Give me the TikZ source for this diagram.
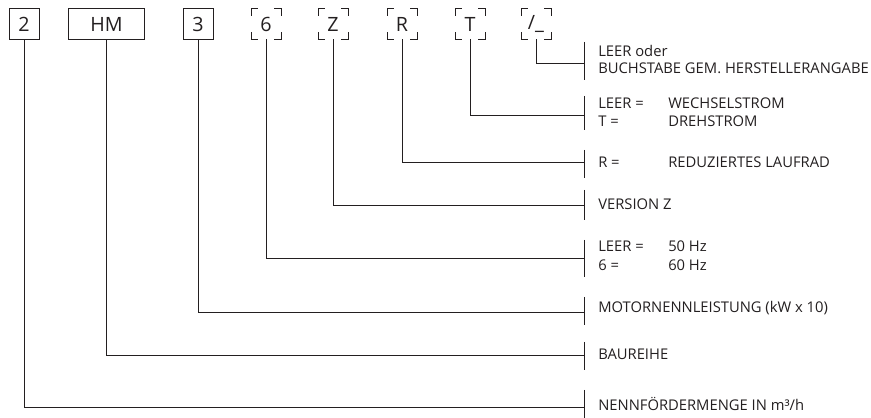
\documentclass[tikz,border=0pt]{standalone}
\usepackage{fontspec}
\setmainfont{Open Sans}
\usetikzlibrary{positioning}
\definecolor{ink}{HTML}{231F20}

\tikzset{
  codebox/.style={draw=ink, line width=0.7pt, minimum width=0.75cm, minimum height=0.75cm,
    inner sep=0pt, text=ink, font=\fontsize{14}{16}\selectfont},
  optbox/.style={codebox, dash pattern=on 0.34cm off 0.41cm, dash phase=0.17cm},
  lbl/.style={anchor=west, inner sep=0pt, text=ink, font=\fontsize{10.5}{12}\selectfont},
  wire/.style={draw=ink, line width=0.7pt}
}

\begin{document}
\begin{tikzpicture}[x=0.025cm, y=-0.025cm]
  \useasboundingbox (0,0) rectangle (871,418);

  % code positions
  \node[codebox] (n2) at (24,24) {2};
  \node[codebox, minimum width=1.875cm] (nHM) at (106.5,24) {HM};
  \node[codebox] (n3) at (198,24) {3};
  \node[optbox] (n6) at (266,24) {6};
  \node[optbox] (nZ) at (333,24) {Z};
  \node[optbox] (nR) at (402,24) {R};
  \node[optbox] (nT) at (470,24) {T};
  \node[optbox] (nX) at (536,24) {/\_};

  % bar ends
  \coordinate (bX) at (584,63);
  \coordinate (bT) at (584,115);
  \coordinate (bR) at (584,162);
  \coordinate (bZ) at (584,205);
  \coordinate (b6) at (584,258);
  \coordinate (b3) at (584,312);
  \coordinate (bHM) at (584,355);
  \coordinate (b2) at (584,407);

  % leaders
  \draw[wire] (nX.south) |- (bX);
  \draw[wire] (nT.south) |- (bT);
  \draw[wire] (nR.south) |- (bR);
  \draw[wire] (nZ.south) |- (bZ);
  \draw[wire] (n6.south) |- (b6);
  \draw[wire] (n3.south) |- (b3);
  \draw[wire] (nHM.south) |- (bHM);
  \draw[wire] (n2.south) |- (b2);

  % bars
  \draw[wire] (584,42) -- (584,80);
  \draw[wire] (584,96) -- (584,130);
  \draw[wire] (584,150) -- (584,178);
  \draw[wire] (584,190) -- (584,220);
  \draw[wire] (584,240) -- (584,277);
  \draw[wire] (584,297) -- (584,325);
  \draw[wire] (584,342) -- (584,370);
  \draw[wire] (584,390) -- (584,418);

  % meanings
  \node[lbl] (tX1) at (598,51) {LEER oder};
  \node[lbl] (tX2) at (598,68) {BUCHSTABE GEM. HERSTELLERANGABE};
  \node[lbl] (tT1) at (598,103) {LEER =};
  \node[lbl] (tT1v) at (668,103) {WECHSELSTROM};
  \node[lbl] (tT2) at (598,121) {T =};
  \node[lbl] (tT2v) at (668,121) {DREHSTROM};
  \node[lbl] (tR) at (598,162) {R =};
  \node[lbl] (tRv) at (668,162) {REDUZIERTES LAUFRAD};
  \node[lbl] (tZ) at (598,204) {VERSION Z};
  \node[lbl] (t61) at (598,246) {LEER =};
  \node[lbl] (t61v) at (668,246) {50 Hz};
  \node[lbl] (t62) at (598,265) {6 =};
  \node[lbl] (t62v) at (668,265) {60 Hz};
  \node[lbl] (t3) at (598,308) {MOTORNENNLEISTUNG (kW x 10)};
  \node[lbl] (tHM) at (598,354) {BAUREIHE};
  \node[lbl] (t2) at (598,404) {NENNFÖRDERMENGE IN m³/h};
\end{tikzpicture}
\end{document}
